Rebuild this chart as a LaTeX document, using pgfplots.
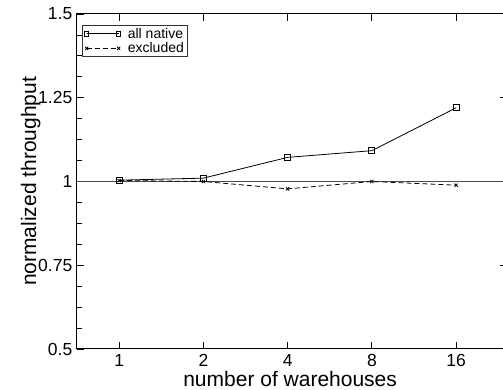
\documentclass[border=0pt]{standalone}
\usepackage{pgfplots}
\pgfplotsset{compat=1.18}
\usepackage{fontspec}
\setmainfont{Liberation Sans}
\begin{document}
\begin{tikzpicture}
\begin{axis}[
  scale only axis,
  width=429.7pt, height=335pt,
  xmin=-0.5, xmax=4.6,
  ymin=0.5, ymax=1.5,
  xtick={0,1,2,3,4},
  xticklabels={1,2,4,8,16},
  ytick={0.5,0.75,1,1.25,1.5},
  yticklabels={0.5,0.75,1,1.25,1.5},
  minor ytick={0.5625,0.625,0.6875,0.8125,0.875,0.9375,1.0625,1.125,1.1875,1.3125,1.375,1.4375},
  ytick pos=left,
  tick align=inside,
  major tick length=7pt,
  minor tick length=5pt,
  axis line style={line width=1pt},
  every tick/.style={line width=0.8pt, black},
  every minor tick/.style={line width=0.8pt, black},
  /pgf/number format/assume math mode=true,
  ticklabel style={font=\fontsize{17.5}{17.5}\selectfont},
  xticklabel style={anchor=base, yshift=-18pt},
  yticklabel style={inner xsep=4.5pt},
  xlabel={number of warehouses},
  ylabel={normalized throughput},
  label style={font=\fontsize{21}{21}\selectfont},
  xlabel style={at={(axis description cs:0.496,0)}, anchor=base, yshift=-38pt},
  ylabel style={at={(axis description cs:-0.0954,0.5)}, anchor=base},
  legend style={at={(rel axis cs:0,1)}, anchor=north west, xshift=5pt, yshift=-11pt,
    font=\fontsize{14}{14}\selectfont, draw=black!80, line width=0.9pt,
    inner xsep=2pt, inner ysep=1pt, row sep=0pt,
    nodes={inner ysep=1.5pt},
    /tikz/every odd column/.append style={column sep=5pt}},
  legend cell align=left,
  legend image code/.code={\draw[#1] (0pt,0pt) -- (32pt,0pt); \path[#1, mark size=2.2pt] plot coordinates {(0pt,0pt) (32pt,0pt)};},
  after end axis/.code={
    \coordinate (axsw) at (rel axis cs:0,0);
    \foreach \yy in {0.75,1.25}{\draw[line width=0.8pt, black] ({rel axis cs:1,0}|-{axis cs:0,\yy}) -- ++(-7pt,0pt);}
  },
]
\addplot[black!70, line width=1.4pt, forget plot] coordinates {(-0.5,1) (4.6,1)};
\addplot[black, line width=0.8pt, mark=square, mark size=3pt, mark options={solid, fill=white, line width=0.8pt}]
  coordinates {(0,1.004) (1,1.010) (2,1.072) (3,1.092) (4,1.220)};
\addlegendentry{all native}
\addplot[black, line width=0.8pt, dash pattern=on 5pt off 3pt, mark=x, mark size=2.3pt, mark options={solid}]
  coordinates {(0,1.003) (1,1.000) (2,0.978) (3,1.000) (4,0.989)};
\addlegendentry{excluded}
\end{axis}
\pgfresetboundingbox
\path[use as bounding box] ([shift={(-77pt,-41pt)}]axsw) rectangle ([shift={(426pt,349pt)}]axsw);
\end{tikzpicture}
\end{document}
